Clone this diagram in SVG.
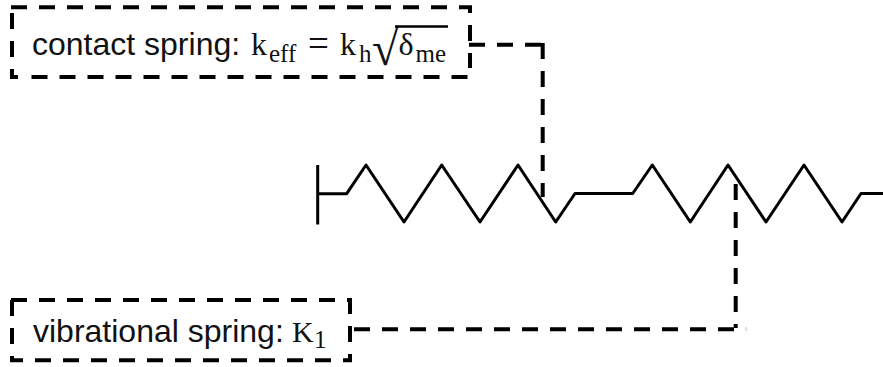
<svg xmlns="http://www.w3.org/2000/svg" width="883" height="367" viewBox="0 0 883 367">
<style>
.d{fill:none;stroke:#000;stroke-width:4;stroke-dasharray:16 12}
.c{fill:none;stroke:#000;stroke-width:4}
.s{fill:none;stroke:#000;stroke-width:3;stroke-linejoin:round}
.t{font-family:"Liberation Sans",Arial,sans-serif;font-size:32px;fill:#111}
.m{font-family:"Liberation Serif","Times New Roman",serif;font-size:32px;fill:#111}
.b{font-family:"Liberation Serif","Times New Roman",serif;font-size:25px;fill:#111}
</style>
<rect width="883" height="367" fill="#fff"/>
<g id="spring">
<path class="s" d="M317.7 165V224.5M317.7 193.7H346.7L366 165L404 222L441.7 165L480 222L518 165L555.7 222L575 193.5H632.7L652.3 165L690.3 222L728 165L766 222L804 165L842 222L861 193.5H883"/>
</g>
<g id="connectors">
<path class="d" d="M469 44.7H541"/>
<path class="d" d="M542.7 43V197"/>
<path class="d" d="M354 329.3H734"/>
<path class="d" d="M735.7 184V328"/>
<rect x="745" y="327" width="2" height="4" fill="#ddd"/>
</g>
<g id="contact-label">
<path class="d" d="M11 7.3H472"/>
<path class="d" stroke-dashoffset="10" d="M470 7V68"/>
<path class="d" d="M31.5 77H467.5"/>
<path class="d" d="M12 13V79"/>
<path class="c" d="M10 77H18"/>
<text class="t" x="32" y="55">contact spring:</text>
<text class="m" x="251" y="55">k</text>
<text class="b" x="269" y="61.7">eff</text>
<text class="m" x="308" y="56" style="font-size:37px">=</text>
<text class="m" x="340" y="55">k</text>
<text class="b" x="359" y="61.7">h</text>
<text class="m" x="372" y="64.5" style="font-size:48px">√</text>
<path d="M395 26.5H448" fill="none" stroke="#000" stroke-width="2.5"/>
<text class="m" x="398.5" y="55">δ</text>
<text class="b" x="415.5" y="61.7">me</text>
</g>
<g id="vibrational-label">
<path class="d" d="M11 300H352"/>
<path class="d" d="M350 298V360"/>
<path class="d" d="M12 300V360"/>
<path class="d" stroke-dashoffset="3" d="M10 360.3H352"/>
<text class="t" x="33" y="341.5">vibrational spring:</text>
<text class="m" x="292" y="341.5" style="font-size:30px">K</text>
<text class="b" x="314" y="348.3">1</text>
</g>
</svg>
